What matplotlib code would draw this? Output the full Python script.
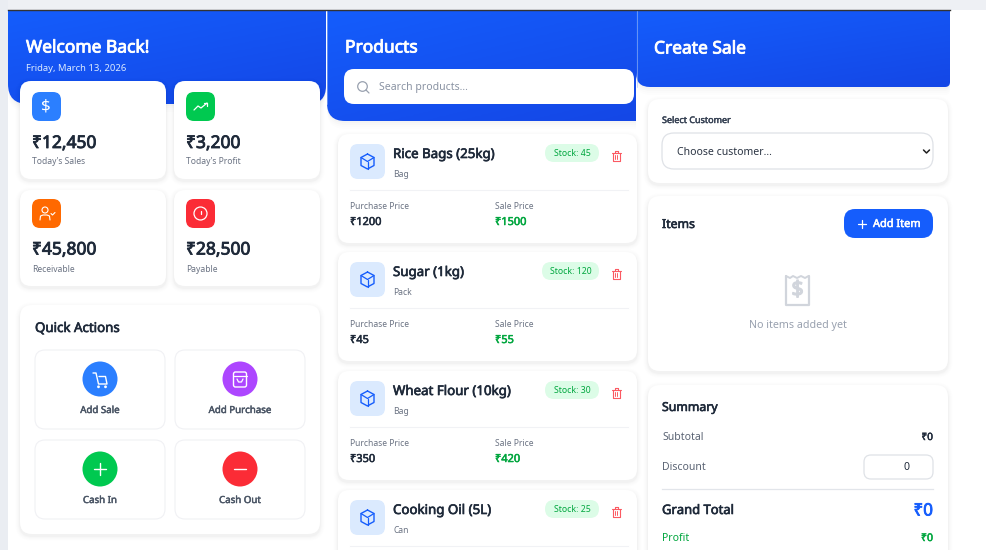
import matplotlib
matplotlib.use("Agg")
import matplotlib.pyplot as plt
import matplotlib.patheffects as pe
import numpy as np
from matplotlib.patches import FancyBboxPatch, Circle, Rectangle, PathPatch
from matplotlib.path import Path

plt.rcParams['font.family'] = ['Noto Sans', 'DejaVu Sans']

# data
stat_values = ["₹12,450", "₹3,200", "₹45,800", "₹28,500"]
stat_labels = ["Today's Sales", "Today's Profit", "Receivable", "Payable"]
stat_colors = ["#2b7fff", "#00c950", "#ff6900", "#fb2c36"]
action_labels = ["Add Sale", "Add Purchase", "Cash In", "Cash Out"]
action_colors = ["#2b7fff", "#ad46ff", "#00c950", "#fb2c36"]
product_names = ["Rice Bags (25kg)", "Sugar (1kg)", "Wheat Flour (10kg)", "Cooking Oil (5L)"]
product_units = ["Bag", "Pack", "Bag", "Can"]
product_stock = [45, 120, 30, 25]
product_buy = [1200, 45, 350]
product_sell = [1500, 55, 420]

INK = "#1e2939"
GREY = "#6a7282"
BLUE = "#155dfc"
GREEN = "#00a63e"

fig = plt.figure(figsize=(9.87, 5.5), dpi=100)
ax = fig.add_axes([0, 0, 1, 1])
ax.axis("off")


def px(size):
    return size * 0.72


def box(x0, y0, x1, y1, r, fc="white", ec="none", lw=0, z=2, alpha=None):
    p = FancyBboxPatch((x0, y0), x1 - x0, y1 - y0, boxstyle=f"round,pad=0,rounding_size={r}",
                       fc=fc, ec=ec, lw=lw, zorder=z, alpha=alpha)
    ax.add_patch(p)
    return p


def card(x0, y0, x1, y1, r=12, z=2):
    # soft css style shadow
    for grow, a in [(5, 0.005), (4, 0.007), (3, 0.009), (2, 0.012), (1, 0.018)]:
        box(x0 - grow, y0 - grow + 2, x1 + grow, y1 + grow + 2, r + grow, fc="black", z=z, alpha=a)
    return box(x0, y0, x1, y1, r, z=z + 0.1)


def label(x, y, s, size, color=INK, weight="normal", ha="left", z=6):
    t = ax.text(x, y + 1.5, s, fontsize=px(size), color=color, ha=ha, va="center", zorder=z)
    # the installed family has no usable bold face, thicken the outline instead
    if weight == "bold":
        t.set_path_effects([pe.withStroke(linewidth=size * 0.035, foreground=color)])
    return t


def stroke(xs, ys, color="white", lw=1.0, z=6):
    ax.plot(xs, ys, color=color, lw=lw, zorder=z, solid_capstyle="round", solid_joinstyle="round")


def ring(x, y, r, color="white", lw=1.0, z=6):
    ax.add_patch(Circle((x, y), r, fc="none", ec=color, lw=lw, zorder=z))


def header(x0, x1, y1, rl, rr):
    # blue banner, square on top and rounded on the bottom
    verts = [(x0, 11), (x1, 11), (x1, y1 - rr), (x1, y1), (x1 - rr, y1), (x0 + rl, y1), (x0, y1), (x0, y1 - rl), (x0, 11)]
    codes = [Path.MOVETO, Path.LINETO, Path.LINETO, Path.CURVE3, Path.CURVE3, Path.LINETO, Path.CURVE3, Path.CURVE3, Path.CLOSEPOLY]
    for grow, a in [(8, 0.006), (6, 0.008), (4, 0.011), (2, 0.015)]:
        v = [(vx, vy + grow if vy > 20 else vy) for vx, vy in verts]
        ax.add_patch(PathPatch(Path(v, codes), fc="black", ec="none", alpha=a, zorder=1.5))
    patch = PathPatch(Path(verts, codes), fc="none", ec="none", zorder=1.6)
    ax.add_patch(patch)
    grad = np.linspace(0, 1, 64)[None, :] * 0.4 + np.linspace(0, 1, 64)[:, None] * 0.6
    cmap = matplotlib.colors.LinearSegmentedColormap.from_list("hdr", ["#155dfc", "#1447e6"])
    im = ax.imshow(grad, extent=(x0, x1, y1, 11), cmap=cmap, vmin=0, vmax=1, aspect="auto", zorder=1.6)
    im.set_clip_path(patch)


# page background
ax.add_patch(Rectangle((0, 0), 987, 550, fc="white", ec="none", zorder=0))
ax.add_patch(Rectangle((0, 0), 987, 10, fc="#eef0f4", ec="none", zorder=0.1))
ax.add_patch(Rectangle((0, 0), 8, 550, fc="#eaedf2", ec="none", zorder=0.1))
ax.plot([8, 950], [10.4, 10.4], color="#333333", lw=1.0, zorder=5)

# left column
header(8, 326, 104, 20, 18)
label(26, 46, "Welcome Back!", 17.4, "white", "bold")
label(26, 67, "Friday, March 13, 2026", 9.5, "#dbeafe")

stat_boxes = [(20, 81, 166, 179), (174, 81, 320, 179), (20, 190, 166, 286), (174, 190, 320, 286)]
icon_tops = [92, 92, 199, 199]
value_rows = [141.5, 141.5, 248, 248]
label_rows = [160.5, 160.5, 267.5, 267.5]
for i, (x0, y0, x1, y1) in enumerate(stat_boxes):
    card(x0, y0, x1, y1, 11, z=3)
    box(x0 + 12, icon_tops[i], x0 + 41, icon_tops[i] + 29, 8, fc=stat_colors[i], z=4)
    label(x0 + 12, value_rows[i], stat_values[i], 17.4, INK, "bold")
    label(x0 + 12, label_rows[i], stat_labels[i], 8.5, GREY)

# stat icons
ax.text(46, 106.5, "$", fontsize=px(17), color="white", ha="center", va="center", zorder=6)
stroke([194, 198, 201, 207], [110, 106, 108, 103], lw=0.9)
stroke([203.5, 207, 207], [103, 103, 106], lw=0.9)
ring(45, 210, 3, lw=0.8)
stroke([40, 40.5, 43, 47, 49.5, 50], [220, 216, 215, 215, 216, 220], lw=0.8)
stroke([51, 52.5, 55], [213.5, 215, 212.5], lw=0.8)
ring(200.5, 213.5, 6.5, lw=0.9)
stroke([200.5, 200.5], [210.5, 213.5], lw=0.9)
stroke([200.5, 200.5], [216.3, 216.4], lw=1.0)

# quick actions
card(20, 305, 320, 534, 12, z=3)
label(35, 327, "Quick Actions", 13.3, INK, "bold")
action_boxes = [(35, 350, 165, 429), (175, 350, 305, 429), (35, 440, 165, 519), (175, 440, 305, 519)]
for (x0, y0, x1, y1), lab, col in zip(action_boxes, action_labels, action_colors):
    box(x0, y0, x1, y1, 10, fc="white", ec="#f0f1f4", lw=0.8, z=4)
    cx = (x0 + x1) / 2
    ax.add_patch(Circle((cx, y0 + 29), 17.5, fc=col, ec="none", zorder=5))
    label(cx, y0 + 59, lab, 9.7, "#4a5565", "bold", ha="center")

# action icons
stroke([93, 96, 98.5, 107, 105.5, 99], [373, 373, 384, 384, 376.5, 376.5])
ring(98.5, 386.8, 0.7)
ring(105.5, 386.8, 0.7)
box(233.5, 372, 246.5, 387, 2, fc="none", ec="white", lw=1.0, z=6)
stroke([233.5, 246.5], [376, 376], lw=0.9)
stroke([237, 238.5, 241.5, 243], [379, 382, 382, 379], lw=0.9)
stroke([94, 106], [469, 469])
stroke([100, 100], [463, 475])
stroke([234, 246], [469, 469])

# products column
header(327, 636, 121, 18, 0)
label(345, 46, "Products", 17.4, "white", "bold")
box(344, 69, 634, 104, 10, z=4)
ring(362.5, 86.5, 4.8, color="#99a1af", lw=0.9)
stroke([366, 369], [90, 93], color="#99a1af", lw=0.9)
label(379, 86, "Search products...", 10.5, "#8a93a3")

product_tops = [134, 252, 371, 490]
pill_left = [545, 542, 545, 545]
for i, top in enumerate(product_tops):
    bottom = top + 109
    card(338, top, 637, bottom, 11, z=2)
    box(350, top + 10, 385, top + 45, 8, fc="#dbeafe", z=4)
    # cube icon
    cx, cy = 367.5, top + 27.5
    stroke([cx, cx + 6.5, cx + 6.5, cx, cx - 6.5, cx - 6.5, cx], [cy - 7.5, cy - 4, cy + 4, cy + 7.5, cy + 4, cy - 4, cy - 7.5], color=BLUE)
    stroke([cx - 6.5, cx, cx + 6.5], [cy - 4, cy, cy - 4], color=BLUE, lw=0.9)
    stroke([cx, cx], [cy, cy + 7.5], color=BLUE, lw=0.9)
    label(393, top + 19, product_names[i], 13.3, INK, "bold")
    label(393, top + 39, product_units[i], 8.5, GREY)
    box(pill_left[i], top + 10, 599, top + 28, 9, fc="#dcfce7", z=4)
    label((pill_left[i] + 599) / 2, top + 18, f"Stock: {product_stock[i]}", 8.7, "#00a63e", ha="center")
    # trash icon
    tx, ty = 616, top + 22
    stroke([tx - 4.5, tx + 4.5], [ty - 3.5, ty - 3.5], color="#fb5a62", lw=0.8)
    stroke([tx - 1.5, tx - 1.5, tx + 1.5, tx + 1.5], [ty - 3.5, ty - 5, ty - 5, ty - 3.5], color="#fb5a62", lw=0.8)
    stroke([tx - 3.5, tx - 3.5, tx + 3.5, tx + 3.5], [ty - 3.5, ty + 5, ty + 5, ty - 3.5], color="#fb5a62", lw=0.8)
    stroke([tx - 1.2, tx - 1.2], [ty - 1, ty + 2.5], color="#fb5a62", lw=0.7)
    stroke([tx + 1.2, tx + 1.2], [ty - 1, ty + 2.5], color="#fb5a62", lw=0.7)
    ax.plot([350, 628], [top + 56, top + 56], color="#f1f2f5", lw=0.8, zorder=4)
    if i < len(product_buy):
        label(350, top + 71, "Purchase Price", 8.5, GREY)
        label(495, top + 71, "Sale Price", 8.5, GREY)
        label(350, top + 87, f"₹{product_buy[i]}", 11, INK, "bold")
        label(495, top + 87, f"₹{product_sell[i]}", 11, GREEN, "bold")

# sale column
header(636, 950, 87, 14, 5)
label(654, 47, "Create Sale", 17.4, "white", "bold")
ax.plot([326.5, 326.5], [11, 104], color="#a9bff2", lw=0.4, zorder=5)
ax.plot([636.5, 636.5], [11, 87], color="#a9bff2", lw=0.4, zorder=5)

card(648, 99, 948, 183, 12, z=2)
label(662, 119, "Select Customer", 9, "#364153", "bold")
box(662, 133, 933, 169, 12, fc="white", ec="#dfe2e7", lw=0.9, z=4)
label(677, 151, "Choose customer...", 10.5, "#2a3342")
stroke([923.5, 926.5, 929.5], [150, 153, 150], color="#222222", lw=1.1)

card(648, 196, 948, 371, 12, z=2)
label(662, 223, "Items", 12.3, INK, "bold")
box(844, 209, 933, 238, 11, fc=BLUE, z=4)
stroke([857.5, 866], [224, 224], lw=0.9)
stroke([861.7, 861.7], [220, 228], lw=0.9)
label(873, 223, "Add Item", 11, "white", "bold")
# empty receipt icon
stroke([786, 786, 808.5, 808.5], [276, 305, 305, 276], color="#d1d5dc", lw=1.6)
stroke([786, 790, 793, 797, 801, 805, 808.5], [276, 278, 276, 278, 276, 278, 276], color="#d1d5dc", lw=1.4)
ax.text(797.5, 290.5, "$", fontsize=px(21), color="#d1d5dc", ha="center", va="center", zorder=6,
        path_effects=[pe.withStroke(linewidth=1.0, foreground="#d1d5dc")])
label(797.5, 324, "No items added yet", 10.7, "#99a1af", ha="center")

card(648, 385, 948, 570, 12, z=2)
label(662, 406, "Summary", 12.3, INK, "bold")
label(662, 436, "Subtotal", 10.5, "#5b6474")
label(933, 436, "₹0", 10, INK, "bold", ha="right")
label(662, 466, "Discount", 10.5, "#5b6474")
box(864, 455, 933, 479, 7, fc="white", ec="#dfe2e7", lw=0.9, z=4)
label(910, 466, "0", 10.5, INK, ha="right")
ax.plot([662, 933], [488.5, 488.5], color="#e2e5ea", lw=0.9, zorder=4)
label(662, 509, "Grand Total", 13, INK, "bold")
label(933, 510, "₹0", 17, BLUE, "bold", ha="right")
label(662, 537, "Profit", 10.5, GREEN, "normal")
label(933, 537, "₹0", 10.5, GREEN, "bold", ha="right")

ax.set_xlim(0, 987)
ax.set_ylim(550, 0)
fig.savefig("out.png", dpi=100)
